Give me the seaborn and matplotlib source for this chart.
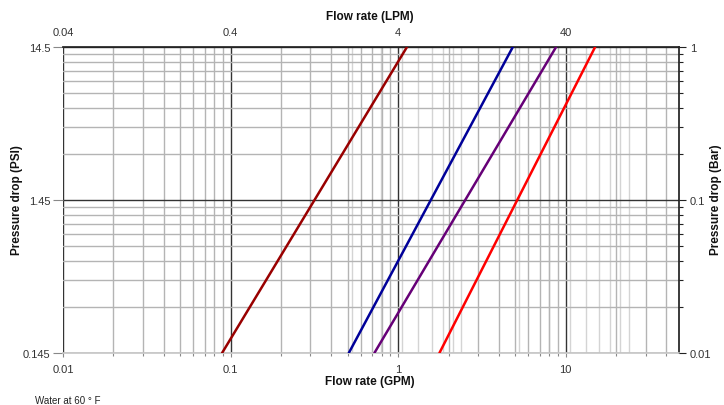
# %% pressure drop vs flow rate chart
import numpy as np
import pandas as pd
import seaborn as sns
from matplotlib import pyplot as plt
from matplotlib.ticker import LogLocator, NullFormatter, FixedLocator, FixedFormatter

# %% DATA
# each curve: flow (GPM) at the bottom (0.145 PSI) and top (14.5 PSI) of the chart
series_names = ['curve 1', 'curve 2', 'curve 3', 'curve 4']
pressure_psi = [0.145, 14.5]
flow_curve1 = [0.089, 1.13]
flow_curve2 = [0.508, 4.84]
flow_curve3 = [0.722, 8.77]
flow_curve4 = [1.765, 15.0]
line_colors = ['#990000', '#000099', '#660077', '#ff0000']

gpm_ticks = [0.01, 0.1, 1, 10]
gpm_labels = ['0.01', '0.1', '1', '10']
lpm_labels = ['0.04', '0.4', '4', '40']
psi_ticks = [0.145, 1.45, 14.5]
psi_labels = ['0.145', '1.45', '14.5']
bar_labels = ['0.01', '0.1', '1']

GPM_TO_LPM = 3.785
X_LIM = (0.01, 47.5)
Y_LIM = (0.145, 14.5)

# %% build table
rows = []
for name, flows in zip(series_names, [flow_curve1, flow_curve2, flow_curve3, flow_curve4]):
    for q, p in zip(flows, pressure_psi):
        rows.append({'series': name, 'flow': q, 'psi': p})
df = pd.DataFrame(rows)

# %% plot
sns.set_theme(style='white')
plt.rcParams['font.family'] = ['Liberation Sans', 'DejaVu Sans']

fig = plt.figure(figsize=(7.24, 4.06), dpi=100)
ax = fig.add_axes([63 / 724, 1 - 354 / 406, (679 - 63) / 724, (354 - 48) / 406])

# secondary LPM axis (drawn underneath, gives the second set of grid lines)
ax_top = ax.twiny()
ax.set_zorder(ax_top.get_zorder() + 1)
ax.patch.set_visible(False)
ax_top.set_xscale('log')
ax_top.set_xlim(X_LIM[0] * GPM_TO_LPM, X_LIM[1] * GPM_TO_LPM)
lpm_minor = [k * d for d in [1, 10, 100] for k in range(2, 10) if k * d < 180]
ax_top.xaxis.set_minor_locator(FixedLocator(lpm_minor))
ax_top.xaxis.set_minor_formatter(NullFormatter())
ax_top.grid(which='minor', axis='x', color='#d4d4d4', linewidth=1.0)
ax_top.xaxis.set_major_locator(FixedLocator([t * GPM_TO_LPM for t in gpm_ticks]))
ax_top.xaxis.set_major_formatter(FixedFormatter(lpm_labels))
ax_top.tick_params(axis='x', which='both', length=0, pad=7, labelsize=8, colors='#333333')
for s in ax_top.spines.values():
    s.set_visible(False)

sns.lineplot(data=df, x='flow', y='psi', hue='series', palette=line_colors,
             linewidth=1.8, legend=False, ax=ax, zorder=5)

ax.set_xscale('log')
ax.set_yscale('log')
ax.set_xlim(*X_LIM)
ax.set_ylim(*Y_LIM)

ax.xaxis.set_major_locator(FixedLocator(gpm_ticks))
ax.xaxis.set_major_formatter(FixedFormatter(gpm_labels))
ax.xaxis.set_minor_locator(LogLocator(base=10, subs=np.arange(2, 10)))
ax.xaxis.set_minor_formatter(NullFormatter())
ax.yaxis.set_major_locator(FixedLocator(psi_ticks))
ax.yaxis.set_major_formatter(FixedFormatter(psi_labels))
ax.yaxis.set_minor_locator(FixedLocator([k * d for d in [0.145, 1.45] for k in range(2, 10)]))
ax.yaxis.set_minor_formatter(NullFormatter())

ax.grid(which='minor', color='#b4b4b4', linewidth=1.0)
ax.grid(which='major', color='#333333', linewidth=1.0)
ax.set_xlabel('')
ax.set_ylabel('')

ax.tick_params(axis='x', which='major', length=3, width=0.8, color='#888888',
               pad=5, labelsize=8, labelcolor='#333333')
ax.tick_params(axis='x', which='minor', length=2, width=0.8, color='#888888')
ax.tick_params(axis='y', which='major', length=7, width=0.8, color='#888888',
               pad=2, labelsize=8, labelcolor='#333333')
ax.tick_params(axis='y', which='minor', length=0)

ax.spines['left'].set_visible(False)
ax.spines['bottom'].set_color('#c8c8c8')
ax.spines['top'].set_color('#222222')
ax.spines['right'].set_color('#222222')

# right Bar axis
ax_right = ax.twinx()
ax_right.set_yscale('log')
ax_right.set_ylim(*Y_LIM)
ax_right.yaxis.set_major_locator(FixedLocator(psi_ticks))
ax_right.yaxis.set_major_formatter(FixedFormatter(bar_labels))
ax_right.yaxis.set_minor_locator(FixedLocator([k * d for d in [0.145, 1.45] for k in range(2, 10)]))
ax_right.yaxis.set_minor_formatter(NullFormatter())
ax_right.tick_params(axis='y', which='major', length=5, width=0.8, color='#222222',
                     pad=3, labelsize=8, labelcolor='#333333')
ax_right.tick_params(axis='y', which='minor', length=3, width=0.8, color='#222222')
for s in ax_right.spines.values():
    s.set_visible(False)

# labels
bold = dict(fontsize=8.5, fontweight='bold', color='#111111')
fig.text(0.511, 0.958, 'Flow rate (LPM)', ha='center', va='center', **bold)
fig.text(0.511, 0.060, 'Flow rate (GPM)', ha='center', va='center', **bold)
fig.text(0.024, 0.507, 'Pressure drop (PSI)', ha='center', va='center', rotation=90, **bold)
fig.text(0.989, 0.507, 'Pressure drop (Bar)', ha='center', va='center', rotation=90, **bold)
fig.text(35 / 724, 0.012, 'Water at 60 \u00b0 F', ha='left', va='center', fontsize=7, color='#222222')

fig.savefig('out.png', dpi=100)
